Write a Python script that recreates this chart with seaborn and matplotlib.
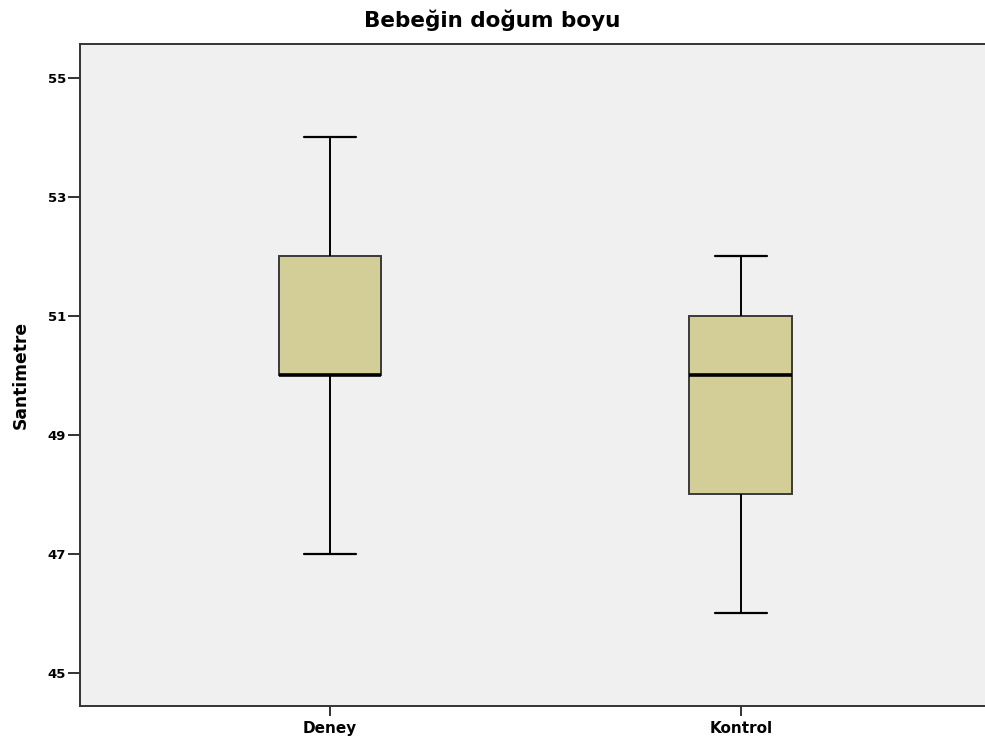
import numpy as np
import pandas as pd
import matplotlib
matplotlib.use("Agg")
import matplotlib.pyplot as plt
import seaborn as sns

# Birth length observations (cm) for each group
groups = ["Deney", "Kontrol"]
deney_cm = [47, 50, 50, 50, 52, 52, 54]
kontrol_cm = [46, 48, 48, 50, 51, 51, 52]
y_ticks = [45, 47, 49, 51, 53, 55]

df = pd.DataFrame({
    "Grup": [groups[0]] * len(deney_cm) + [groups[1]] * len(kontrol_cm),
    "Santimetre": deney_cm + kontrol_cm,
})

sns.set_theme(style="ticks")
plt.rcParams["font.family"] = ["DejaVu Sans"]
plt.rcParams["text.color"] = "black"
plt.rcParams["axes.labelcolor"] = "black"
plt.rcParams["xtick.color"] = "black"
plt.rcParams["ytick.color"] = "black"

fig = plt.figure(figsize=(9.85, 7.38), dpi=100)
ax = fig.add_axes([80 / 985, 32 / 738, 1 - 80 / 985, (706 - 44) / 738])
ax.set_facecolor("#F0F0F0")

sns.boxplot(
    data=df, x="Grup", y="Santimetre", order=groups, ax=ax,
    width=0.25, color="#D3CE98", saturation=1, whis=1.5,
    linecolor="#3a3a3a", linewidth=1.4,
    medianprops=dict(color="black", linewidth=2.6),
    whiskerprops=dict(color="black", linewidth=1.4),
    capprops=dict(color="black", linewidth=1.6),
    showfliers=False,
)

ax.set_xlim(-0.608, 1.594)
ax.set_ylim(44.445, 55.57)
ax.set_yticks(y_ticks)
ax.set_yticklabels([str(t) for t in y_ticks], fontweight="bold", fontsize=9.5)
ax.set_xticks(range(len(groups)))
ax.set_xticklabels(groups, fontweight="bold", fontsize=11)
ax.tick_params(axis="y", direction="out", length=8.5, width=1.3, color="#222222", pad=1.5)
ax.tick_params(axis="x", direction="out", length=7.5, width=1.3, color="#222222", pad=3)

for side in ["left", "top", "bottom"]:
    ax.spines[side].set_visible(True)
    ax.spines[side].set_color("#333333")
    ax.spines[side].set_linewidth(1.4)
ax.spines["right"].set_visible(False)

ax.set_xlabel("")
ax.set_ylabel("Santimetre", fontweight="bold", fontsize=12.3, labelpad=13)
fig.text(0.5, 1 - 20 / 738, "Bebeğin doğum boyu", ha="center", va="center",
         fontweight="bold", fontsize=15.5)

fig.savefig("out.png", dpi=100, facecolor="white")
